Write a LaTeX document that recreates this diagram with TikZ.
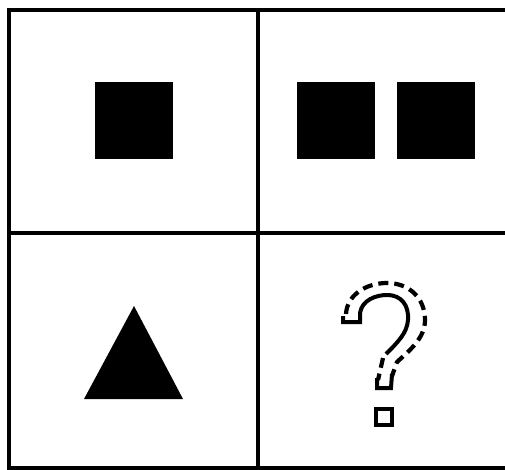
\documentclass[tikz,border=0pt]{standalone}
\usetikzlibrary{positioning}

\begin{document}
\begin{tikzpicture}[
  x=1pt, y=-1pt,
  grid/.style={line width=3.5pt, draw=black, line join=miter},
  blk/.style={fill=black, inner sep=0pt, minimum width=78pt, minimum height=77pt},
  qsolid/.style={line width=4pt, draw=black, line join=miter},
  qdash/.style={line width=4.2pt, draw=black, dash pattern=on 10pt off 6pt}
]
\useasboundingbox (0,0) rectangle (505,470);
% frame and dividers
\draw[grid] (505,10) -- (9,10) -- (9,468) -- (505,468);
\draw[grid] (258,10) -- (258,468);
\draw[grid] (9,233) -- (505,233);
% top row
\node[blk] (sqA) at (134,120.5) {};
\node[blk] (sqB) at (335.5,120.5) {};
\node[blk, right=22pt of sqB] (sqC) {};
% bottom left
\fill (84,399) -- (134,306) -- (183,399) -- cycle;
% question mark
\draw[qsolid] (343,316) -- (343,322) -- (360,322) -- (360,313)
  .. controls (362,300) and (376,295) .. (387,295)
  .. controls (402,295) and (409,306) .. (408,320)
  .. controls (407,333) and (398,342) .. (386,354);
\draw[qdash] (346,314) .. controls (347,295) and (366,283) .. (387,283)
  .. controls (409,283) and (425,298) .. (425,320)
  .. controls (425,338) and (410,350) .. (397,362) -- (392,376);
\draw[qdash] (383,358) -- (378,380);
\draw[qsolid] (377,378) -- (377,388) -- (391,388) -- (392,374);
\draw[qsolid] (375.5,408.5) rectangle (391.5,424.5);
\end{tikzpicture}
\end{document}
